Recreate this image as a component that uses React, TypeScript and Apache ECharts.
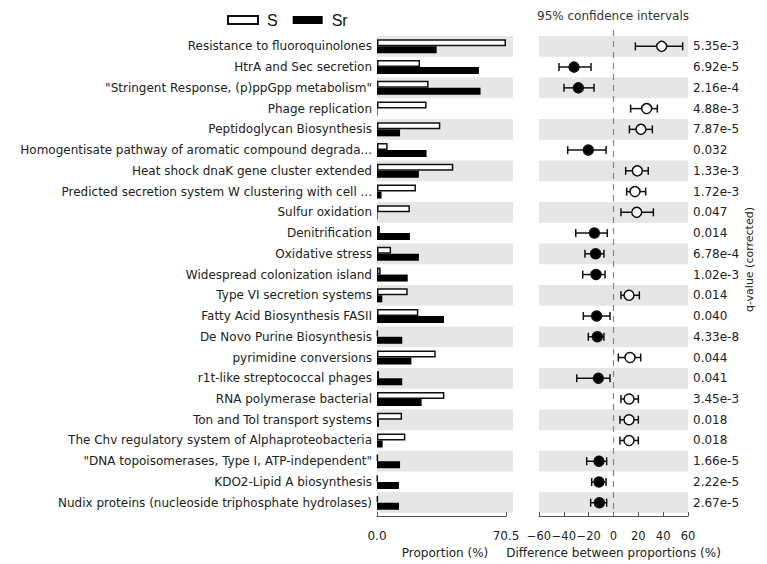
import React, { useEffect, useRef } from "react";
import * as echarts from "echarts";

const categories = [
  "Resistance to fluoroquinolones",
  "HtrA and Sec secretion",
  "\"Stringent Response, (p)ppGpp metabolism\"",
  "Phage replication",
  "Peptidoglycan Biosynthesis",
  "Homogentisate pathway of aromatic compound degrada...",
  "Heat shock dnaK gene cluster extended",
  "Predicted secretion system W clustering with cell ...",
  "Sulfur oxidation",
  "Denitrification",
  "Oxidative stress",
  "Widespread colonization island",
  "Type VI secretion systems",
  "Fatty Acid Biosynthesis FASII",
  "De Novo Purine Biosynthesis",
  "pyrimidine conversions",
  "r1t-like streptococcal phages",
  "RNA polymerase bacterial",
  "Ton and Tol transport systems",
  "The Chv regulatory system of Alphaproteobacteria",
  "\"DNA topoisomerases, Type I, ATP-independent\"",
  "KDO2-Lipid A biosynthesis",
  "Nudix proteins (nucleoside triphosphate hydrolases)",
];

const sValues = [70.5, 23.5, 28.2, 27.1, 34.6, 5.8, 41.7, 21.3, 18.0, 1.6, 7.7, 2.0, 16.8, 22.6, 0.4, 32.1, 1.1, 36.8, 13.7, 15.5, 0.4, 0.3, 0.4];
const srValues = [32.6, 55.7, 56.6, 0.3, 12.6, 27.1, 22.9, 2.5, 0.3, 18.0, 22.9, 16.8, 2.9, 36.6, 13.8, 18.8, 13.8, 24.4, 1.1, 3.1, 12.6, 12.0, 12.0];

const diffs = [38.8, -31.8, -28.3, 26.7, 22.1, -20.3, 19.2, 17.3, 18.7, -15.4, -14.4, -14.1, 12.5, -13.6, -13.0, 13.3, -12.2, 12.5, 12.5, 12.5, -11.7, -11.7, -11.4];
const ciLow = [17.6, -43.9, -39.9, 13.8, 12.8, -36.9, 9.8, 10.6, 6.0, -30.4, -23.0, -24.8, 6.0, -24.3, -20.3, 3.9, -29.6, 6.0, 5.2, 5.2, -21.6, -17.6, -18.4];
const ciHigh = [55.7, -18.1, -15.7, 35.3, 31.3, -6.0, 28.0, 25.9, 32.1, -5.0, -7.7, -6.8, 20.8, -2.8, -7.7, 21.9, -2.8, 20.0, 20.0, 20.0, -5.5, -6.0, -5.5];

const qValues = ["5.35e-3", "6.92e-5", "2.16e-4", "4.88e-3", "7.87e-5", "0.032", "1.33e-3", "1.72e-3", "0.047", "0.014", "6.78e-4", "1.02e-3", "0.014", "0.040", "4.33e-8", "0.044", "0.041", "3.45e-3", "0.018", "0.018", "1.66e-5", "2.22e-5", "2.67e-5"];

const proportionAxis = { min: 0, max: 70.5, interval: 70.5 };
const proportionBandEnd = 74.3;
const diffTicks = { min: -60, max: 60, interval: 20 };

const FONT = "DejaVu Sans";
const TEXT = "#222";
const AXIS = "#555";
const BAND = "#e6e6e6";

export default function App() {
  const ref = useRef<HTMLDivElement>(null);
  useEffect(() => {
    document.body.style.margin = "0";
    document.body.style.background = "#fff";
    const chart = echarts.init(ref.current!, null, { renderer: "svg" });
    const bandRows = categories.map((_, i) => i).filter((i) => i % 2 === 0);

    const bandRender = (params: any, api: any) => {
      const idx = api.value(1);
      const p0 = api.coord([api.value(0), idx]);
      const p1 = api.coord([api.value(2), idx]);
      const h = api.size([0, 1])[1];
      return {
        type: "rect",
        shape: { x: p0[0], y: p0[1] - h / 2, width: p1[0] - p0[0], height: h },
        style: { fill: BAND },
      };
    };

    const dotData = diffs.map((d, i) => [d, i, ciLow[i], ciHigh[i]]);

    const option: any = {
      animation: false,
      backgroundColor: "#fff",
      textStyle: { fontFamily: FONT },
      title: {
        text: "95% confidence intervals",
        left: 532,
        top: 5,
        textStyle: { fontFamily: FONT, fontSize: 12, fontWeight: "normal", color: "#333" },
      },
      legend: {
        data: ["S", "Sr"],
        left: 222,
        top: 7,
        icon: "rect",
        itemWidth: 30,
        itemHeight: 8,
        itemGap: 15,
        textStyle: { fontFamily: "Liberation Sans", fontSize: 16, color: "#111", padding: [0, 0, 0, 4] },
      },
      grid: [
        { left: 377, top: 36, width: 129, height: 481 },
        { left: 539, top: 36, width: 149, height: 481 },
      ],
      xAxis: [
        {
          type: "value",
          gridIndex: 0,
          min: proportionAxis.min,
          max: proportionAxis.max,
          interval: proportionAxis.interval,
          offset: 3,
          splitLine: { show: false },
          axisLine: { show: true, lineStyle: { color: AXIS } },
          axisTick: { show: true, inside: true, length: 4, lineStyle: { color: AXIS } },
          axisLabel: {
            formatter: (v: number) => v.toFixed(1),
            fontFamily: FONT,
            fontSize: 12,
            color: TEXT,
            margin: 14,
            showMinLabel: true,
            showMaxLabel: true,
          },
          name: "Proportion (%)",
          nameLocation: "middle",
          nameGap: 30,
          nameTextStyle: { fontFamily: FONT, fontSize: 12, color: TEXT, padding: [0, 0, 0, 7] },
        },
        {
          type: "value",
          gridIndex: 1,
          min: diffTicks.min,
          max: diffTicks.max,
          interval: diffTicks.interval,
          offset: 3,
          splitLine: { show: false },
          axisLine: { show: true, lineStyle: { color: AXIS } },
          axisTick: { show: true, inside: true, length: 4, lineStyle: { color: AXIS } },
          axisLabel: {
            formatter: (v: number) => (v < 0 ? "\u2212" + Math.abs(v) : String(v)),
            fontFamily: FONT,
            fontSize: 11.5,
            color: TEXT,
            margin: 14,
            hideOverlap: false,
            showMinLabel: true,
            showMaxLabel: true,
          },
          name: "Difference between proportions (%)",
          nameLocation: "middle",
          nameGap: 30,
          nameTextStyle: { fontFamily: FONT, fontSize: 12, color: TEXT },
        },
      ],
      yAxis: [
        {
          type: "category",
          gridIndex: 0,
          inverse: true,
          data: categories,
          axisLine: { show: false },
          axisTick: { show: false },
          axisLabel: { fontFamily: FONT, fontSize: 12, color: TEXT, margin: 5, interval: 0 },
        },
        {
          type: "category",
          gridIndex: 1,
          inverse: true,
          position: "right",
          data: qValues,
          axisLine: { show: false },
          axisTick: { show: false },
          axisLabel: { fontFamily: FONT, fontSize: 12, color: TEXT, margin: 5, interval: 0, align: "left" },
          name: "q-value (corrected)",
          nameLocation: "middle",
          nameRotate: 90,
          nameGap: 56,
          nameTextStyle: { fontFamily: FONT, fontSize: 11, color: TEXT, padding: [0, 0, 0, 30] },
        },
      ],
      series: [
        {
          type: "custom",
          name: "bands0",
          xAxisIndex: 0,
          yAxisIndex: 0,
          silent: true,
          clip: false,
          z: 0,
          renderItem: bandRender,
          data: bandRows.map((i) => [proportionAxis.min, i, proportionBandEnd]),
        },
        {
          type: "custom",
          name: "bands1",
          xAxisIndex: 1,
          yAxisIndex: 1,
          silent: true,
          z: 0,
          renderItem: bandRender,
          data: bandRows.map((i) => [diffTicks.min, i, diffTicks.max]),
        },
        {
          type: "custom",
          name: "zero",
          xAxisIndex: 1,
          yAxisIndex: 1,
          silent: true,
          z: 1,
          clip: false,
          data: [[0, 0]],
          renderItem: (params: any, api: any) => {
            const x = api.coord([api.value(0), 0])[0];
            const cs = params.coordSys;
            return {
              type: "line",
              shape: { x1: x, y1: cs.y - 6, x2: x, y2: cs.y + cs.height + 2 },
              style: { stroke: "#888", lineWidth: 1.2, lineDash: [6, 5] },
            };
          },
        },
        {
          type: "bar",
          name: "S",
          xAxisIndex: 0,
          yAxisIndex: 0,
          data: sValues,
          barWidth: 7,
          barGap: "0%",
          z: 2,
          itemStyle: { color: "#fff", borderColor: "#111", borderWidth: 1.5 },
        },
        {
          type: "bar",
          name: "Sr",
          xAxisIndex: 0,
          yAxisIndex: 0,
          data: srValues,
          barWidth: 7,
          barGap: "0%",
          z: 2,
          itemStyle: { color: "#000" },
        },
        {
          type: "custom",
          name: "diff",
          xAxisIndex: 1,
          yAxisIndex: 1,
          z: 3,
          data: dotData,
          renderItem: (params: any, api: any) => {
            const d = api.value(0);
            const idx = api.value(1);
            const c = api.coord([d, idx]);
            const l = api.coord([api.value(2), idx]);
            const h = api.coord([api.value(3), idx]);
            const stroke = { stroke: "#111", lineWidth: 1.5 };
            return {
              type: "group",
              children: [
                { type: "line", shape: { x1: l[0], y1: c[1], x2: h[0], y2: c[1] }, style: stroke },
                { type: "line", shape: { x1: l[0], y1: c[1] - 4, x2: l[0], y2: c[1] + 4 }, style: stroke },
                { type: "line", shape: { x1: h[0], y1: c[1] - 4, x2: h[0], y2: c[1] + 4 }, style: stroke },
                {
                  type: "circle",
                  shape: { cx: c[0], cy: c[1], r: 5 },
                  style: { fill: d > 0 ? "#fff" : "#000", stroke: "#111", lineWidth: 1.5 },
                },
              ],
            };
          },
        },
      ],
    };
    chart.setOption(option);
    return () => chart.dispose();
  }, []);
  return <div ref={ref} style={{ width: 767, height: 564 }} />;
}
